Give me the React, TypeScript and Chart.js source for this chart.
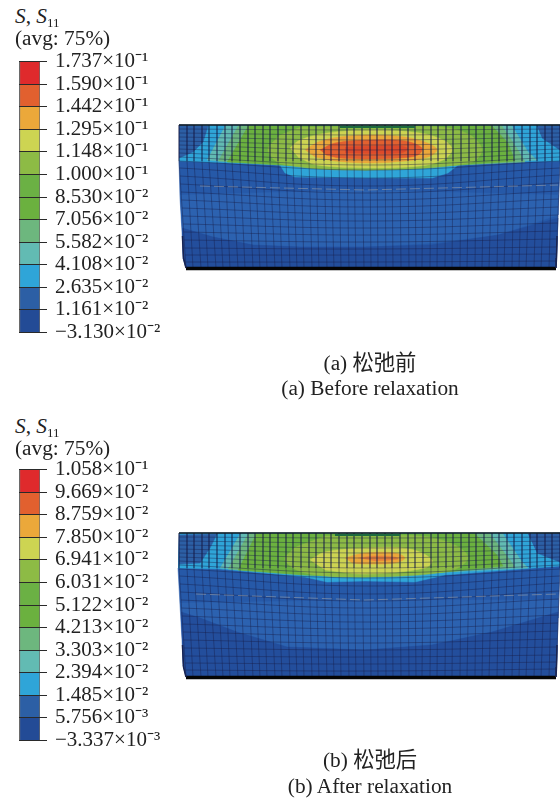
import React, { useEffect, useRef } from "react";
import { Chart, registerables } from "chart.js";

Chart.register(...registerables);

type P = [number, number];

// ---------- legend data ----------
const bandColors = ["#DF2A2C", "#E2602F", "#EBA83A", "#CDD452", "#8DBB45", "#6BB144", "#6BB13F", "#6DB77E", "#62BBB3", "#2FA5D8", "#2C5FA5", "#234B96"];
const levelsA = ["1.737×10⁻¹", "1.590×10⁻¹", "1.442×10⁻¹", "1.295×10⁻¹", "1.148×10⁻¹", "1.000×10⁻¹", "8.530×10⁻²", "7.056×10⁻²", "5.582×10⁻²", "4.108×10⁻²", "2.635×10⁻²", "1.161×10⁻²", "−3.130×10⁻²"];
const levelsB = ["1.058×10⁻¹", "9.669×10⁻²", "8.759×10⁻²", "7.850×10⁻²", "6.941×10⁻²", "6.031×10⁻²", "5.122×10⁻²", "4.213×10⁻²", "3.303×10⁻²", "2.394×10⁻²", "1.485×10⁻²", "5.756×10⁻³", "−3.337×10⁻³"];

// ---------- mesh (shared columns) ----------
const columnTopX = [179,187,194,202,209,217,225,232,240,248,255,263,270,278,286,293,301,309,316,324,331,339,347,354,362,370,377,385,392,400,408,415,423,431,438,446,453,461,469,476,484,492,499,507,514,522,530,537,545,552,560];
const columnBottomX = [186,193,201,208,216,223,230,238,245,253,260,267,275,282,290,297,304,312,319,327,334,341,349,356,364,371,378,386,393,401,409,416,422,430,437,445,452,460,467,475,482,489,497,504,512,519,526,534,541,549,556];

const rowLeftA = [129,133,137,141,145,149,153,157,161,168,176,184,192,200,208,216,224,232,240,248,255,262];
const rowMidA = [130,135,140,145,150,155,160,165,170,178,186,193,200,207,214,221,228,235,242,249,255,262];
const rowRightA = [129,133,137,141,145,149,153,157,161,168,175,183,191,199,207,215,223,231,239,247,254,261];
const rowLeftB = [537,541,545,549,553,557,561,565,569,576,584,592,600,608,616,624,632,640,648,656,663,670];
const rowMidB = [538,543,548,553,558,563,568,573,578,586,594,601,608,615,622,629,636,643,650,657,664,671];
const rowRightB = [537,541,545,549,553,557,561,565,569,576,583,591,599,607,615,623,631,639,647,655,662,669];

// ---------- contour regions, panel (a) ----------
const outlineA: P[] = [[179,125],[560,125],[560,162],[558,215],[557,248],[556,268],[186,268],[183,258],[182,232],[180,198],[179,161]];
const lensA: P[] = [[180,195],[365,190],[558,195],[558,215],[498,235],[432,243],[365,247],[300,247],[253,245],[213,237],[182,228]];
const bottomA: P[] = [[182,228],[213,237],[253,245],[300,247],[365,247],[432,245],[498,235],[558,218],[557,248],[556,268],[186,268],[183,258]];
const upperA: P[] = [[179,125],[560,125],[560,161],[515,162],[458,165],[448,173],[432,178],[365,178],[295,177],[285,173],[280,165],[227,163],[179,161]];
const cornerLeftA: P[] = [[179,125],[208,126],[203,142],[193,152],[179,158]];
const cornerRightA: P[] = [[537,126],[560,125],[560,150],[542,138]];
const tealA: P[] = [[225,126],[512,126],[528,152],[537,160],[458,165],[365,170],[282,165],[207,160]];
const seaA: P[] = [[238,126],[502,126],[518,150],[525,162],[458,165],[365,170],[282,165],[218,161]];
const greenA: P[] = [[248,126],[492,126],[508,143],[515,161],[458,165],[365,170],[282,165],[227,162]];
const limeA: P[] = [[300,127],[440,127],[470,135],[482,150],[470,163],[365,170],[282,164],[268,150],[280,135]];
const yellowA: P[] = [[290,148],[300,140],[327,133],[371,130],[420,133],[445,141],[452,150],[443,160],[420,166],[371,168],[317,165],[298,157]];
const orangeA: P[] = [[305,150],[318,142],[340,137],[371,135],[405,137],[430,144],[437,150],[428,157],[405,161],[371,163],[335,161],[315,157]];
const hotA: P[] = [[320,150],[335,143],[371,140],[405,141],[422,148],[418,155],[400,158],[371,159],[340,158],[326,155]];
const coreA: P[] = [[345,147],[400,146],[408,149],[400,153],[345,153]];

// ---------- contour regions, panel (b) ----------
const outlineB: P[] = [[179,533],[560,533],[560,566],[558,620],[557,655],[556,677],[186,677],[183,665],[182,640],[180,605],[178,568]];
const lensB: P[] = [[180,603],[365,600],[558,600],[558,618],[492,632],[432,645],[365,650],[287,647],[237,632],[200,618],[181,612]];
const bottomB: P[] = [[181,612],[200,618],[237,632],[287,647],[365,650],[432,645],[492,632],[558,612],[557,655],[556,677],[186,677],[183,665]];
const upperB: P[] = [[179,533],[560,533],[560,566],[445,575],[415,582],[365,581],[327,582],[305,577],[220,569],[178,568]];
const cornerLeftB: P[] = [[179,535],[217,534],[210,548],[200,563],[179,564]];
const cornerRightB: P[] = [[528,534],[560,533],[560,562],[537,553]];
const tealB: P[] = [[240,534],[503,534],[522,562],[528,568],[445,572],[365,577],[305,575],[220,568]];
const seaB: P[] = [[248,534],[490,534],[510,560],[515,567],[445,572],[365,577],[305,575],[228,569]];
const greenB: P[] = [[256,534],[475,534],[497,555],[503,566],[445,572],[365,577],[305,575],[238,570]];
const limeB: P[] = [[325,536],[420,536],[455,545],[468,558],[450,571],[365,577],[305,573],[285,560],[295,547]];
const yellowB: P[] = [[310,560],[325,552],[365,548],[410,549],[432,560],[425,568],[365,574],[325,570]];
const orangeB: P[] = [[345,558],[365,553],[395,553],[405,558],[395,563],[365,564],[352,563]];
const hotB: P[] = [[358,558],[375,556],[395,557],[398,559],[375,561]];

const BASE = "#2659A8";
const LENS = "#2C62B0";
const DEEP = "#234E9C";

interface Panel {
  xRange: P;
  yRange: P;
  top: number;
  split: number;
  bottom: number;
  rowsL: number[];
  rowsM: number[];
  rowsR: number[];
  fills: { pts: P[]; color: string; smooth?: boolean }[];
  seam: P[];
  bandTop: P[];
}

const panelA: Panel = {
  xRange: [170, 560], yRange: [115, 280], top: 125, split: 161, bottom: 268,
  rowsL: rowLeftA, rowsM: rowMidA, rowsR: rowRightA,
  fills: [
    { pts: outlineA, color: BASE }, { pts: lensA, color: LENS }, { pts: bottomA, color: DEEP },
    { pts: upperA, color: bandColors[9] }, { pts: cornerLeftA, color: bandColors[10] }, { pts: cornerRightA, color: bandColors[10] },
    { pts: tealA, color: bandColors[8] }, { pts: seaA, color: bandColors[7] }, { pts: greenA, color: bandColors[6] },
    { pts: limeA, color: bandColors[4], smooth: true }, { pts: yellowA, color: bandColors[3], smooth: true },
    { pts: orangeA, color: bandColors[2], smooth: true }, { pts: hotA, color: bandColors[1], smooth: true }, { pts: coreA, color: "#DC4A2A", smooth: true },
  ],
  seam: [[200,186],[365,190],[558,185]],
  bandTop: [[340,127],[415,127]],
};

const panelB: Panel = {
  xRange: [170, 560], yRange: [525, 685], top: 533, split: 568, bottom: 677,
  rowsL: rowLeftB, rowsM: rowMidB, rowsR: rowRightB,
  fills: [
    { pts: outlineB, color: BASE }, { pts: lensB, color: LENS }, { pts: bottomB, color: DEEP },
    { pts: upperB, color: bandColors[9] }, { pts: cornerLeftB, color: bandColors[10] }, { pts: cornerRightB, color: bandColors[10] },
    { pts: tealB, color: bandColors[8] }, { pts: seaB, color: bandColors[7] }, { pts: greenB, color: bandColors[6] },
    { pts: limeB, color: bandColors[4], smooth: true }, { pts: yellowB, color: bandColors[3], smooth: true },
    { pts: orangeB, color: bandColors[2], smooth: true }, { pts: hotB, color: "#E6803A", smooth: true },
  ],
  seam: [[196,594],[365,600],[558,594]],
  bandTop: [[335,535],[400,535]],
};

const toXY = (pts: P[]) => pts.map(([x, y]) => ({ x, y }));

function buildContour(p: Panel) {
  const line = (pts: P[], color: string, width: number, extra: object = {}) => ({
    data: toXY(pts), showLine: true, borderColor: color, borderWidth: width, pointRadius: 0, fill: false, ...extra,
  });
  const leftAt = (y: number) => (y <= p.split ? 179 : 179 + ((y - p.split) / (p.bottom - p.split)) * 7);
  const rightAt = (y: number) => (y <= p.split ? 560 : 560 - ((y - p.split) / (p.bottom - p.split)) * 4);
  const datasets: any[] = [];
  p.fills.forEach((f) =>
    datasets.push({
      data: toXY(f.pts), showLine: true, fill: "shape", backgroundColor: f.color, borderColor: f.color,
      borderWidth: 0.5, pointRadius: 0, tension: f.smooth ? 0.35 : 0,
    })
  );
  const mesh = "rgba(22,28,70,0.45)";
  columnTopX.forEach((x, i) =>
    datasets.push(line([[x, p.top], [x, p.split], [columnBottomX[i], p.bottom]], mesh, 0.9))
  );
  p.rowsL.forEach((yl, i) =>
    datasets.push(line([[leftAt(yl), yl], [370, p.rowsM[i]], [rightAt(p.rowsR[i]), p.rowsR[i]]], mesh, 0.9, { tension: 0.4 }))
  );
  datasets.push(line(p.seam, "rgba(170,170,170,0.5)", 1, { borderDash: [10, 4] }));
  datasets.push(line(p.bandTop, "#1D6A3F", 2));
  datasets.push(line([[179, p.top], [560, p.top]], "#14181C", 1.6));
  datasets.push(line([[186, p.bottom + 0.5], [556, p.bottom + 0.5]], "#050505", 3.5));
  datasets.push(line([[182.5, p.bottom - 32], [183.5, p.bottom - 10], [186, p.bottom]], "#1A2450", 1.5));
  datasets.push(line([[557, p.bottom - 32], [556.5, p.bottom - 10], [556, p.bottom]], "#1A2450", 1.5));
  // Chart.js paints the first dataset last, so the painting order is reversed here.
  datasets.reverse();
  return {
    type: "scatter" as const,
    data: { datasets },
    options: {
      responsive: false,
      animation: false as const,
      layout: { padding: 0 },
      plugins: { legend: { display: false }, tooltip: { enabled: false } },
      scales: {
        x: { type: "linear" as const, display: false, min: p.xRange[0], max: p.xRange[1] },
        y: { type: "linear" as const, display: false, reverse: true, min: p.yRange[0], max: p.yRange[1] },
      },
    },
  };
}

function buildLegend(levels: string[]) {
  return {
    type: "bar" as const,
    data: {
      labels: [""],
      datasets: bandColors.map((color, i) => ({
        data: [[i, i + 1]],
        backgroundColor: color,
        borderColor: "#6A6A6A",
        borderWidth: { left: 1.5, right: 1, top: 0, bottom: 0 },
        borderSkipped: false,
        barPercentage: 1,
        categoryPercentage: 1,
      })),
    },
    options: {
      responsive: false,
      animation: false as const,
      layout: { padding: { top: 2, bottom: 4, left: 0, right: 0 } },
      plugins: { legend: { display: false }, tooltip: { enabled: false } },
      scales: {
        x: { stacked: true, display: false },
        y: {
          position: "right" as const,
          reverse: true,
          min: 0,
          max: 12,
          afterFit: (s: any) => { s.width = 135; },
          afterBuildTicks: (s: any) => { s.ticks = levels.map((_, i) => ({ value: i })); },
          border: { display: false },
          grid: { color: "#2A2A2A", lineWidth: 1, tickLength: 7, z: 1, drawOnChartArea: true },
          ticks: {
            autoSkip: false,
            padding: 8,
            color: "#222222",
            font: { family: "'Liberation Serif'", size: 21 },
            callback: (v: any) => levels[Number(v)],
          },
        },
      },
    },
  };
}

function ChartCanvas({ config, left, top, width, height, blur }: any) {
  const ref = useRef<HTMLCanvasElement>(null);
  useEffect(() => {
    const chart = new Chart(ref.current as HTMLCanvasElement, config);
    return () => chart.destroy();
  }, []);
  return (
    <canvas
      ref={ref}
      width={width}
      height={height}
      style={{ position: "absolute", left, top, width, height, filter: blur ? "blur(0.55px)" : undefined }}
    />
  );
}

const serif = "'Liberation Serif','Noto Sans CJK SC',serif";

function Text({ x, y, center, children }: any) {
  return (
    <div
      style={{
        position: "absolute", left: center ? x - 200 : x, top: y, width: center ? 400 : undefined,
        textAlign: center ? "center" : "left", font: `21.3px/24px ${serif}`, color: "#222", whiteSpace: "nowrap",
      }}
    >
      {children}
    </div>
  );
}

function Heading({ y }: { y: number }) {
  return (
    <>
      <Text x={15} y={y + 4}>
        <i>S</i>, <i>S</i>
        <span style={{ fontSize: 13, position: "relative", top: 4 }}>11</span>
      </Text>
      <Text x={15} y={y + 26}>(avg: 75%)</Text>
    </>
  );
}

export default function App() {
  return (
    <div style={{ position: "absolute", left: 0, top: 0, width: 560, height: 799, overflow: "hidden", background: "#fff" }}>
      <ChartCanvas config={buildLegend(levelsA)} left={19} top={41} width={156} height={312} />
      <ChartCanvas config={buildContour(panelA)} left={170} top={115} width={390} height={165} blur />
      <Heading y={0} />
      <Text x={370} y={351} center>(a) 松弛前</Text>
      <Text x={370} y={376} center>(a) Before relaxation</Text>

      <ChartCanvas config={buildLegend(levelsB)} left={19} top={449} width={156} height={312} />
      <ChartCanvas config={buildContour(panelB)} left={170} top={525} width={390} height={160} blur />
      <Heading y={410} />
      <Text x={370} y={748} center>(b) 松弛后</Text>
      <Text x={370} y={774} center>(b) After relaxation</Text>
    </div>
  );
}
